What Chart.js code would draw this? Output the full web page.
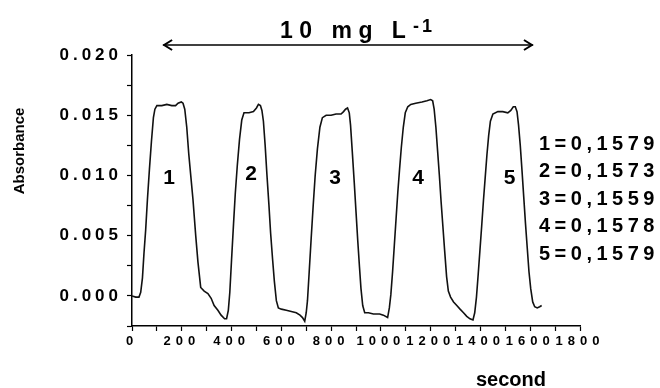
<!DOCTYPE html>
<html>
<head>
<meta charset="utf-8">
<script src="https://cdn.jsdelivr.net/npm/chart.js@4.4.1/dist/chart.umd.min.js"></script>
<style>
  html, body { margin: 0; padding: 0; background: #fff; }
  #wrap { width: 660px; height: 388px; position: relative; }
</style>
</head>
<body>
<div id="wrap"><canvas id="c" width="660" height="388"></canvas></div>
<script>
// ---- data ----
const times = [0, 15, 28, 35, 42, 48, 55, 62, 70, 78, 86, 92, 100, 120, 140, 160, 175, 185, 198, 205, 212, 220, 228, 236, 245, 256, 265, 276, 290, 305, 318, 330, 345, 358, 372, 380, 387, 393, 400, 408, 415, 423, 432, 441, 450, 470, 488, 500, 508, 516, 522, 528, 535, 542, 550, 557, 565, 572, 580, 588, 600, 620, 640, 660, 675, 685, 694, 700, 705, 712, 720, 728, 736, 745, 755, 765, 780, 800, 820, 840, 850, 858, 866, 873, 878, 885, 893, 900, 907, 914, 920, 927, 935, 950, 970, 995, 1010, 1027, 1034, 1040, 1047, 1054, 1061, 1068, 1075, 1082, 1090, 1098, 1108, 1120, 1140, 1165, 1185, 1200, 1208, 1214, 1221, 1228, 1235, 1242, 1249, 1256, 1264, 1271, 1280, 1292, 1305, 1318, 1332, 1345, 1358, 1370, 1377, 1384, 1391, 1398, 1405, 1412, 1419, 1426, 1433, 1440, 1450, 1470, 1490, 1510, 1522, 1532, 1540, 1547, 1553, 1560, 1567, 1574, 1581, 1588, 1595, 1602, 1610, 1618, 1628, 1638, 1646];
const absorbance = [0.0000, -0.0001, -0.0001, 0.0003, 0.0015, 0.0035, 0.0055, 0.0080, 0.0105, 0.0128, 0.0148, 0.0155, 0.0158, 0.0158, 0.0159, 0.0158, 0.0158, 0.0160, 0.0161, 0.0160, 0.0155, 0.0140, 0.0118, 0.0100, 0.0080, 0.0050, 0.0028, 0.0007, 0.0004, 0.0002, -0.0002, -0.0008, -0.0012, -0.0016, -0.0019, -0.0019, -0.0012, 0.0003, 0.0030, 0.0060, 0.0085, 0.0108, 0.0130, 0.0146, 0.0152, 0.0152, 0.0153, 0.0156, 0.0159, 0.0158, 0.0154, 0.0145, 0.0125, 0.0101, 0.0076, 0.0052, 0.0030, 0.0012, -0.0004, -0.0010, -0.0011, -0.0012, -0.0013, -0.0014, -0.0016, -0.0018, -0.0021, -0.0014, -0.0004, 0.0020, 0.0048, 0.0075, 0.0100, 0.0122, 0.0140, 0.0148, 0.0150, 0.0150, 0.0151, 0.0151, 0.0153, 0.0155, 0.0156, 0.0152, 0.0142, 0.0120, 0.0094, 0.0070, 0.0046, 0.0024, 0.0006, -0.0008, -0.0014, -0.0014, -0.0015, -0.0015, -0.0016, -0.0018, -0.0010, 0.0001, 0.0020, 0.0042, 0.0064, 0.0086, 0.0105, 0.0123, 0.0140, 0.0152, 0.0157, 0.0159, 0.0160, 0.0161, 0.0162, 0.0163, 0.0162, 0.0155, 0.0140, 0.0120, 0.0100, 0.0078, 0.0058, 0.0038, 0.0016, 0.0004, -0.0001, -0.0005, -0.0008, -0.0011, -0.0014, -0.0017, -0.0019, -0.0020, -0.0014, -0.0001, 0.0018, 0.0038, 0.0058, 0.0079, 0.0098, 0.0117, 0.0133, 0.0145, 0.0151, 0.0153, 0.0153, 0.0152, 0.0154, 0.0157, 0.0157, 0.0153, 0.0142, 0.0125, 0.0104, 0.0082, 0.0060, 0.0040, 0.0020, 0.0006, -0.0005, -0.0009, -0.0010, -0.0009, -0.0008];

const peakNames = ['1', '2', '3', '4', '5'];
const peakLabelTime = [149, 478, 816, 1149, 1517];
const peakLabelAbs = [0.0098, 0.0101, 0.0098, 0.00975, 0.0098];
const peakResults = ['0,1579', '0,1573', '0,1559', '0,1578', '0,1579'];
const concentrationText = '10 mg L';
const concentrationSup = '-1';
const arrowSpan = [125, 1611];
const yAxisTitle = 'Absorbance';
const xAxisTitle = 'second';

const FONT = '"Liberation Sans", Arial, sans-serif';

const points = times.map((t, i) => ({ x: t, y: absorbance[i] }));

const annotate = {
  id: 'annotate',
  beforeUpdate(chart) { chart.ctx.letterSpacing = '4.5px'; },
  beforeDraw(chart) { chart.ctx.letterSpacing = '4px'; },          // y tick labels (z 0)
  afterDatasetsDraw(chart) { chart.ctx.letterSpacing = '5px'; },   // x tick labels (z 1)
  afterDraw(chart) {
    const ctx = chart.ctx;
    const xs = chart.scales.x, ys = chart.scales.y;
    ctx.save();
    ctx.fillStyle = '#000';
    ctx.strokeStyle = '#000';

    // concentration title
    ctx.letterSpacing = '6.5px';
    ctx.font = 'bold 23px ' + FONT;
    ctx.textAlign = 'left';
    ctx.textBaseline = 'alphabetic';
    ctx.fillText(concentrationText, 280, 38);
    ctx.letterSpacing = '3px';
    ctx.font = 'bold 18px ' + FONT;
    ctx.fillText(concentrationSup, 413, 32);

    // double arrow
    const ax1 = xs.getPixelForValue(arrowSpan[0]);
    const ax2 = xs.getPixelForValue(arrowSpan[1]);
    const ay = 45;
    ctx.lineWidth = 1.5;
    ctx.beginPath();
    ctx.moveTo(ax1, ay); ctx.lineTo(ax2, ay);
    ctx.stroke();
    ctx.lineWidth = 2;
    ctx.beginPath();
    ctx.moveTo(ax1 + 9, ay - 5); ctx.lineTo(ax1 + 1, ay); ctx.lineTo(ax1 + 9, ay + 5);
    ctx.moveTo(ax2 - 9, ay - 5); ctx.lineTo(ax2 - 1, ay); ctx.lineTo(ax2 - 9, ay + 5);
    ctx.stroke();

    // peak numbers
    ctx.letterSpacing = '0px';
    ctx.font = 'bold 21px ' + FONT;
    ctx.textAlign = 'center';
    ctx.textBaseline = 'middle';
    peakNames.forEach((n, i) => {
      ctx.fillText(n, xs.getPixelForValue(peakLabelTime[i]), ys.getPixelForValue(peakLabelAbs[i]));
    });

    // results list
    ctx.letterSpacing = '4.5px';
    ctx.font = 'bold 20px ' + FONT;
    ctx.textAlign = 'left';
    ctx.textBaseline = 'middle';
    peakNames.forEach((n, i) => {
      ctx.fillText(n + '=' + peakResults[i], 539, 144 + i * 27.5);
    });

    // axis titles
    ctx.letterSpacing = '0px';
    ctx.font = 'bold 15px ' + FONT;
    ctx.save();
    ctx.translate(20, 151);
    ctx.rotate(-Math.PI / 2);
    ctx.textAlign = 'center';
    ctx.textBaseline = 'middle';
    ctx.fillText(yAxisTitle, 0, 0);
    ctx.restore();
    ctx.font = 'bold 20px ' + FONT;
    ctx.textAlign = 'center';
    ctx.textBaseline = 'middle';
    ctx.fillText(xAxisTitle, 511, 380);

    ctx.restore();
  }
};

new Chart(document.getElementById('c'), {
  type: 'line',
  data: {
    datasets: [{
      data: points,
      borderColor: '#111',
      borderWidth: 1.6,
      pointRadius: 0,
      tension: 0,
      fill: false
    }]
  },
  options: {
    responsive: false,
    animation: false,
    events: [],
    layout: { padding: { top: 55, right: 80, left: 0, bottom: 0 } },
    plugins: { legend: { display: false }, tooltip: { enabled: false } },
    scales: {
      x: {
        type: 'linear',
        min: 0, max: 1800,
        afterFit(s) { s.height = 62; },
        border: { display: true, color: '#000', width: 1.5 },
        grid: { drawOnChartArea: false, drawTicks: true, tickLength: 5, color: '#000', tickWidth: 1.2 },
        ticks: {
          z: 1,
          stepSize: 100,
          autoSkip: false,
          maxRotation: 0,
          padding: 3,
          color: '#000',
          font: { family: FONT, size: 13, weight: 'bold' },
          callback: v => (Math.round(v) % 200 === 0 ? String(Math.round(v)) : '')
        }
      },
      y: {
        type: 'linear',
        min: -0.0025, max: 0.020,
        afterFit(s) { s.width = 132; },
        border: { display: true, color: '#000', width: 1.5 },
        grid: { drawOnChartArea: false, drawTicks: true, tickLength: 5, color: '#000', tickWidth: 1.2 },
        ticks: {
          stepSize: 0.0025,
          autoSkip: false,
          padding: 5,
          color: '#000',
          font: { family: FONT, size: 17, weight: 'bold' },
          callback: v => {
            const k = Math.round(v * 10000);
            return (k >= 0 && k % 50 === 0) ? (k / 10000).toFixed(3) : '';
          }
        }
      }
    }
  },
  plugins: [annotate]
});
</script>
</body>
</html>
